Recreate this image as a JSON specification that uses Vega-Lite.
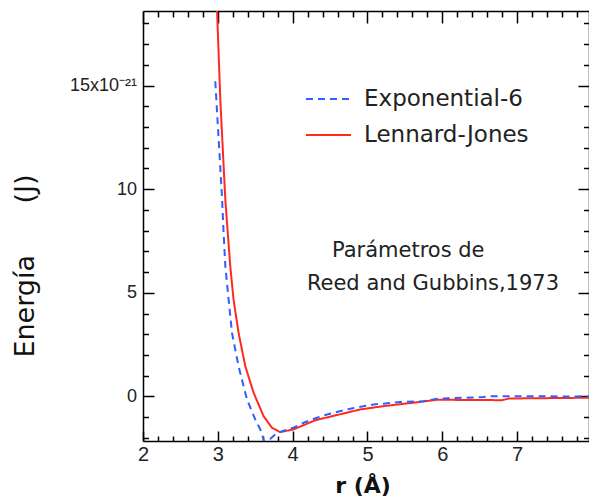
{
  "$schema": "https://vega.github.io/schema/vega-lite/v6.json",
  "width": 446,
  "height": 430,
  "autosize": {"type": "none"},
  "padding": {"left": 143, "top": 11, "right": 0, "bottom": 57},
  "background": "white",
  "config": {"view": {"stroke": null}, "font": "DejaVu Sans"},
  "datasets": {
    "curves": [
      {"series": "Lennard-Jones", "r": 2.99, "E": 18.6},
      {"series": "Lennard-Jones", "r": 3.033, "E": 14.33},
      {"series": "Lennard-Jones", "r": 3.10, "E": 9.5},
      {"series": "Lennard-Jones", "r": 3.166, "E": 6.29},
      {"series": "Lennard-Jones", "r": 3.21, "E": 4.68},
      {"series": "Lennard-Jones", "r": 3.277, "E": 3.07},
      {"series": "Lennard-Jones", "r": 3.367, "E": 1.46},
      {"series": "Lennard-Jones", "r": 3.478, "E": 0.18},
      {"series": "Lennard-Jones", "r": 3.611, "E": -0.95},
      {"series": "Lennard-Jones", "r": 3.723, "E": -1.51},
      {"series": "Lennard-Jones", "r": 3.834, "E": -1.72},
      {"series": "Lennard-Jones", "r": 4.012, "E": -1.59},
      {"series": "Lennard-Jones", "r": 4.3, "E": -1.15},
      {"series": "Lennard-Jones", "r": 4.9, "E": -0.63},
      {"series": "Lennard-Jones", "r": 5.21, "E": -0.47},
      {"series": "Lennard-Jones", "r": 5.62, "E": -0.3},
      {"series": "Lennard-Jones", "r": 5.93, "E": -0.16},
      {"series": "Lennard-Jones", "r": 6.8, "E": -0.18},
      {"series": "Lennard-Jones", "r": 6.89, "E": -0.1},
      {"series": "Lennard-Jones", "r": 8.0, "E": -0.06},
      {"series": "Exponential-6", "r": 2.966, "E": 15.21},
      {"series": "Exponential-6", "r": 3.055, "E": 9.66},
      {"series": "Exponential-6", "r": 3.077, "E": 7.9},
      {"series": "Exponential-6", "r": 3.10, "E": 6.29},
      {"series": "Exponential-6", "r": 3.144, "E": 4.68},
      {"series": "Exponential-6", "r": 3.189, "E": 3.07},
      {"series": "Exponential-6", "r": 3.277, "E": 1.46},
      {"series": "Exponential-6", "r": 3.389, "E": -0.14},
      {"series": "Exponential-6", "r": 3.5, "E": -1.11},
      {"series": "Exponential-6", "r": 3.567, "E": -1.59},
      {"series": "Exponential-6", "r": 3.62, "E": -2.17},
      {"series": "Exponential-6", "r": 3.7, "E": -2.05},
      {"series": "Exponential-6", "r": 3.79, "E": -1.76},
      {"series": "Exponential-6", "r": 4.01, "E": -1.51},
      {"series": "Exponential-6", "r": 4.146, "E": -1.27},
      {"series": "Exponential-6", "r": 4.325, "E": -1.03},
      {"series": "Exponential-6", "r": 4.46, "E": -0.87},
      {"series": "Exponential-6", "r": 4.77, "E": -0.59},
      {"series": "Exponential-6", "r": 5.08, "E": -0.39},
      {"series": "Exponential-6", "r": 5.44, "E": -0.27},
      {"series": "Exponential-6", "r": 5.75, "E": -0.23},
      {"series": "Exponential-6", "r": 5.93, "E": -0.11},
      {"series": "Exponential-6", "r": 6.55, "E": -0.03},
      {"series": "Exponential-6", "r": 6.64, "E": 0.01},
      {"series": "Exponential-6", "r": 8.0, "E": 0.0}
    ],
    "notes": [
      {"r": 4.525, "E": 6.71, "text": "Parámetros de"},
      {"r": 4.19, "E": 5.16, "text": "Reed and Gubbins,1973"}
    ]
  },
  "layer": [
    {
      "data": {"name": "curves"},
      "transform": [{"filter": "datum.series == 'Lennard-Jones'"}],
      "mark": {"type": "line", "clip": true, "strokeWidth": 2},
      "encoding": {
        "x": {
          "field": "r", "type": "quantitative",
          "scale": {"domain": [2, 7.96], "nice": false, "zero": false},
          "axis": {
            "orient": "bottom",
            "values": [2, 3, 4, 5, 6, 7, 8],
            "format": "d",
            "tickSize": -10,
            "tickColor": "#000", "tickWidth": 1.5,
            "domainColor": "#000", "domainWidth": 1.5,
            "labelFont": "Liberation Sans", "labelFontSize": 20, "labelColor": "#222",
            "labelPadding": 13, "labelFlush": false, "labelOverlap": false, "labelBound": false,
            "grid": false,
            "title": "r (Å)", "titleFont": "DejaVu Sans", "titleFontSize": 22, "titleFontWeight": "bold",
            "titleColor": "#111", "titleX": 219.5, "titleY": 51.5, "titleBaseline": "alphabetic"
          }
        },
        "y": {
          "field": "E", "type": "quantitative",
          "scale": {"domain": [-2.15, 18.6], "nice": false, "zero": false},
          "axis": {
            "orient": "left",
            "values": [0, 5, 10, 15],
            "labelExpr": "datum.value == 15 ? '15x10⁻²¹' : '' + datum.value",
            "tickSize": -11,
            "tickColor": "#000", "tickWidth": 1.5,
            "domainColor": "#000", "domainWidth": 1.5,
            "labelFont": "Liberation Sans", "labelFontSize": 18, "labelColor": "#222",
            "labelPadding": 17.5, "labelFlush": false, "labelOverlap": false, "labelBound": false,
            "grid": false,
            "title": "Energía\u00a0\u00a0\u00a0\u00a0\u00a0\u00a0(J)", "titleFont": "DejaVu Sans", "titleFontSize": 27, "titleFontWeight": "normal",
            "titleColor": "#111", "titleX": -110, "titleY": 254.5, "titleBaseline": "alphabetic", "titleAlign": "center", "titleAngle": -90
          }
        },
        "color": {
          "field": "series", "type": "nominal",
          "scale": {"domain": ["Exponential-6", "Lennard-Jones"], "range": ["#2f5fff", "#ff2a1f"]},
          "legend": {
            "title": null, "orient": "none", "legendX": 162, "legendY": 64.5, "padding": 0,
            "symbolType": "stroke", "symbolSize": 2025, "symbolStrokeWidth": 2,
            "labelFont": "DejaVu Sans", "labelFontSize": 23, "labelColor": "#222", "labelLimit": 400,
            "labelOffset": 12, "rowPadding": -13
          }
        },
        "strokeDash": {
          "field": "series", "type": "nominal",
          "scale": {"domain": ["Exponential-6", "Lennard-Jones"], "range": [[7, 5], [1, 0]]},
          "legend": {
            "title": null, "orient": "none", "legendX": 162, "legendY": 64.5, "padding": 0,
            "symbolType": "stroke", "symbolSize": 2025, "symbolStrokeWidth": 2,
            "labelFont": "DejaVu Sans", "labelFontSize": 23, "labelColor": "#222", "labelLimit": 400,
            "labelOffset": 12, "rowPadding": -13
          }
        }
      }
    },
    {
      "data": {"name": "curves"},
      "transform": [{"filter": "datum.series == 'Exponential-6'"}],
      "mark": {"type": "line", "clip": true, "strokeWidth": 2},
      "encoding": {
        "x": {
          "field": "r", "type": "quantitative",
          "scale": {"domain": [2, 7.96], "nice": false, "zero": false},
          "axis": {
            "orient": "top",
            "values": [2, 3, 4, 5, 6, 7, 8],
            "labels": false,
            "tickSize": -12,
            "tickColor": "#000", "tickWidth": 1.5,
            "domainColor": "#000", "domainWidth": 1.5,
            "grid": false, "title": null
          }
        },
        "y": {
          "field": "E", "type": "quantitative",
          "scale": {"domain": [-2.15, 18.6], "nice": false, "zero": false},
          "axis": {
            "orient": "right",
            "values": [0, 5, 10, 15],
            "labels": false,
            "tickSize": -11,
            "tickColor": "#000", "tickWidth": 1.5,
            "domainColor": "#000", "domainWidth": 1.5,
            "grid": false, "title": null
          }
        },
        "color": {
          "field": "series", "type": "nominal",
          "scale": {"domain": ["Exponential-6", "Lennard-Jones"], "range": ["#2f5fff", "#ff2a1f"]},
          "legend": {
            "title": null, "orient": "none", "legendX": 162, "legendY": 64.5, "padding": 0,
            "symbolType": "stroke", "symbolSize": 2025, "symbolStrokeWidth": 2,
            "labelFont": "DejaVu Sans", "labelFontSize": 23, "labelColor": "#222", "labelLimit": 400,
            "labelOffset": 12, "rowPadding": -13
          }
        },
        "strokeDash": {
          "field": "series", "type": "nominal",
          "scale": {"domain": ["Exponential-6", "Lennard-Jones"], "range": [[7, 5], [1, 0]]},
          "legend": {
            "title": null, "orient": "none", "legendX": 162, "legendY": 64.5, "padding": 0,
            "symbolType": "stroke", "symbolSize": 2025, "symbolStrokeWidth": 2,
            "labelFont": "DejaVu Sans", "labelFontSize": 23, "labelColor": "#222", "labelLimit": 400,
            "labelOffset": 12, "rowPadding": -13
          }
        }
      }
    },
    {
      "data": {"name": "notes"},
      "transform": [{"filter": "datum.text == 'Parámetros de'"}],
      "mark": {"type": "text", "align": "left", "baseline": "alphabetic", "font": "DejaVu Sans", "fontSize": 21, "color": "#222"},
      "encoding": {
        "x": {
          "field": "r", "type": "quantitative",
          "scale": {"domain": [2, 7.96], "nice": false, "zero": false},
          "axis": {
            "orient": "bottom",
            "values": [2.2,2.4,2.6,2.8,3.2,3.4,3.6,3.8,4.2,4.4,4.6,4.8,5.2,5.4,5.6,5.8,6.2,6.4,6.6,6.8,7.2,7.4,7.6,7.8],
            "labels": false, "domain": false,
            "tickSize": -5,
            "tickColor": "#000", "tickWidth": 1.5,
            "grid": false, "title": null
          }
        },
        "y": {
          "field": "E", "type": "quantitative",
          "scale": {"domain": [-2.15, 18.6], "nice": false, "zero": false},
          "axis": {
            "orient": "left",
            "values": [-2,-1,1,2,3,4,6,7,8,9,11,12,13,14,16,17,18],
            "labels": false, "domain": false,
            "tickSize": -5.5,
            "tickColor": "#000", "tickWidth": 1.5,
            "grid": false, "title": null
          }
        },
        "text": {"field": "text", "type": "nominal"}
      }
    },
    {
      "data": {"name": "notes"},
      "transform": [{"filter": "datum.text != 'Parámetros de'"}],
      "mark": {"type": "text", "align": "left", "baseline": "alphabetic", "font": "DejaVu Sans", "fontSize": 21, "color": "#222"},
      "encoding": {
        "x": {
          "field": "r", "type": "quantitative",
          "scale": {"domain": [2, 7.96], "nice": false, "zero": false},
          "axis": {
            "orient": "top",
            "values": [2.2,2.4,2.6,2.8,3.2,3.4,3.6,3.8,4.2,4.4,4.6,4.8,5.2,5.4,5.6,5.8,6.2,6.4,6.6,6.8,7.2,7.4,7.6,7.8],
            "labels": false, "domain": false,
            "tickSize": -6,
            "tickColor": "#000", "tickWidth": 1.5,
            "grid": false, "title": null
          }
        },
        "y": {
          "field": "E", "type": "quantitative",
          "scale": {"domain": [-2.15, 18.6], "nice": false, "zero": false},
          "axis": {
            "orient": "right",
            "values": [-2,-1,1,2,3,4,6,7,8,9,11,12,13,14,16,17,18],
            "labels": false, "domain": false,
            "tickSize": -5.5,
            "tickColor": "#000", "tickWidth": 1.5,
            "grid": false, "title": null
          }
        },
        "text": {"field": "text", "type": "nominal"}
      }
    }
  ],
  "resolve": {"axis": {"x": "independent", "y": "independent"}}
}
